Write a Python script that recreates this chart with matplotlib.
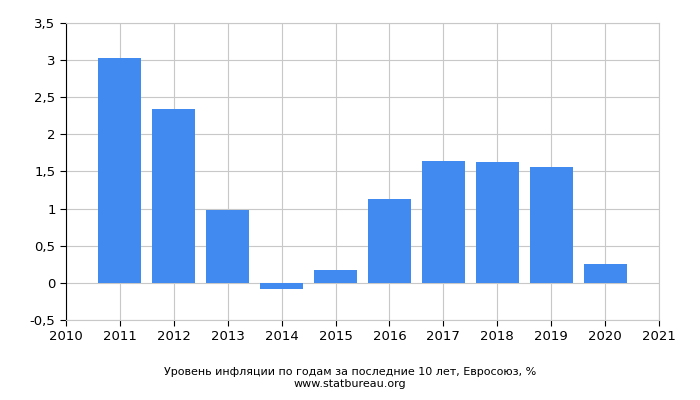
import matplotlib
matplotlib.use("Agg")
import matplotlib.pyplot as plt

years = [2011, 2012, 2013, 2014, 2015, 2016, 2017, 2018, 2019, 2020]
values = [3.03, 2.34, 0.98, -0.08, 0.18, 1.13, 1.64, 1.63, 1.56, 0.26]
yticks = [-0.5, 0, 0.5, 1, 1.5, 2, 2.5, 3, 3.5]
xticks = list(range(2010, 2022))

fig = plt.figure(figsize=(7, 4), dpi=100)
ax = fig.add_axes([66/700, 80/400, 593/700, 297/400])
ax.bar(years, values, width=0.8, color="#418bf0", zorder=2)
ax.set_xlim(2010, 2021)
ax.set_ylim(-0.5, 3.5)
ax.set_xticks(xticks)
ax.set_yticks(yticks)
ax.set_yticklabels([("%g" % v).replace(".", ",") for v in yticks])
ax.grid(True, color="#c8c8c8", linewidth=0.8, zorder=0)
for s in ax.spines.values():
    s.set_color("#c8c8c8")
ax.spines["left"].set_color("black")
ax.spines["bottom"].set_color("#c8c8c8")
ax.tick_params(labelsize=9.5, length=4)
fig.text(0.5, 25/400, "Уровень инфляции по годам за последние 10 лет, Евросоюз, %", ha="center", fontsize=8)
fig.text(0.5, 13/400, "www.statbureau.org", ha="center", fontsize=8)
fig.savefig("out.png")
